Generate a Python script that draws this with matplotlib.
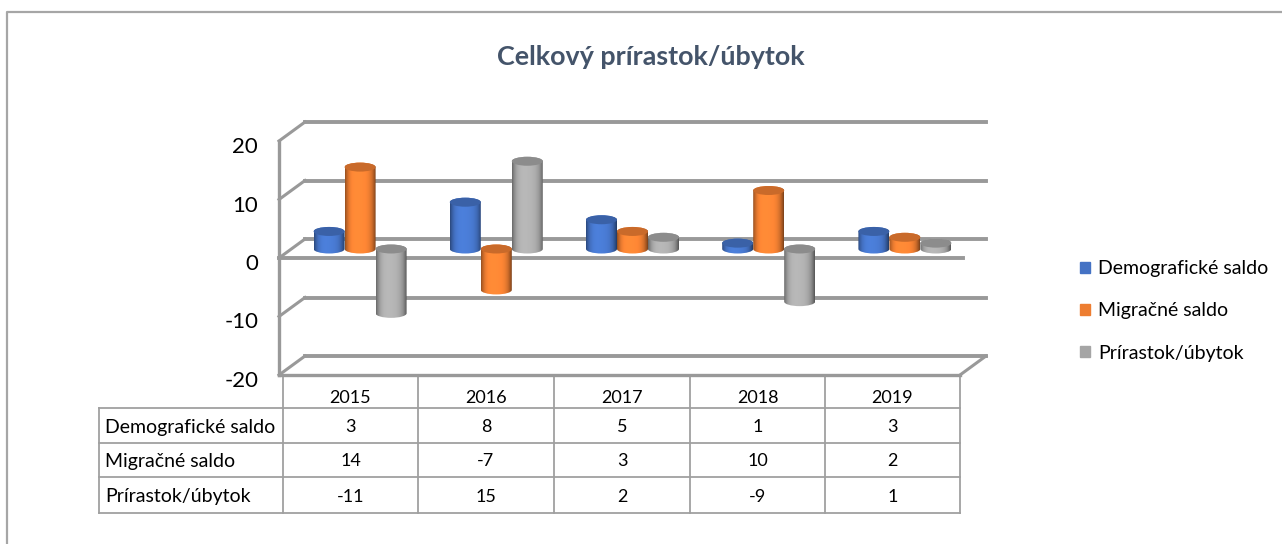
import numpy as np
import matplotlib
matplotlib.use('Agg')
import matplotlib.pyplot as plt
from matplotlib.patches import Ellipse, PathPatch, Patch
from matplotlib.path import Path
from matplotlib.transforms import ScaledTranslation

plt.rcParams['font.family'] = ['Lato', 'DejaVu Sans']

# data
years = ['2015', '2016', '2017', '2018', '2019']
demo = [3, 8, 5, 1, 3]
migr = [14, -7, 3, 10, 2]
prir = [-11, 15, 2, -9, 1]
names = ['Demografické saldo', 'Migračné saldo', 'Prírastok/úbytok']
rows = [demo, migr, prir]
colors = ['#4472C4', '#ED7D31', '#A5A5A5']
ticks = [-20, -10, 0, 10, 20]
grid_c = '#999999'

W, H = 1282, 544
fig = plt.figure(figsize=(W / 100, H / 100), dpi=100)

# overlay in pixel coordinates for the chart frame and the data table
bg = fig.add_axes([0, 0, 1, 1])
bg.set_xlim(0, W)
bg.set_ylim(H, 0)
bg.axis('off')
bg.plot([W, 7, 7], [12, 12, H], color='#A6A6A6', lw=1.6, clip_on=False)
bg.text(651, 57, 'Celkový prírastok/úbytok', color='#44546A', fontsize=19.4,
        fontweight='bold', ha='center', va='center')

# main plot area
x0, x1, y0, y1 = 279, 960, 141, 375
ax = fig.add_axes([x0 / W, 1 - y1 / H, (x1 - x0) / W, (y1 - y0) / H], zorder=2)
ax.patch.set_alpha(0)
n = len(years)
ax.set_xlim(0, n)
ax.set_ylim(-20, 20)
for s in ax.spines.values():
    s.set_visible(False)
ax.set_xticks([])
ax.set_yticks(ticks)
ax.set_yticklabels([str(t) for t in ticks], fontsize=16)
ax.tick_params(axis='y', length=0, pad=15)
shift = ScaledTranslation(0, -4 / 72 * 0.72, fig.dpi_scale_trans)
for t in ax.get_yticklabels():
    t.set_transform(t.get_transform() + shift)
px_x = n / (x1 - x0)
px_y = 40 / (y1 - y0)

# 3d box
dx, dy = 26 * px_x, 19 * px_y
for t in ticks:
    ax.plot([dx, n + dx], [t + dy, t + dy], color=grid_c, lw=2.8, clip_on=False, zorder=1)
    ax.plot([0, dx], [t, t + dy], color=grid_c, lw=2.2, clip_on=False, zorder=1)
ax.plot([0, 0], [-20, 20], color=grid_c, lw=2.4, clip_on=False, zorder=1)
ax.plot([0, n], [-20, -20], color=grid_c, lw=2.4, clip_on=False, zorder=1)
ax.plot([n, n + dx], [-20, -20 + dy], color=grid_c, lw=2.2, clip_on=False, zorder=1)
ax.plot([0, n + 3 * px_x], [0, 0], color=grid_c, lw=2.8, clip_on=False, zorder=1)


def shade(hex_c, f):
    rgb = np.array(matplotlib.colors.to_rgb(hex_c))
    return tuple(np.clip(rgb * f, 0, 1))


def cylinder(cx, val, w, c, z):
    base = 9 * px_y
    eh = 9 * px_y
    lo, hi = sorted([base, base + val])
    k = 0.5522847
    hw = w / 2
    verts = [(cx - hw, hi), (cx - hw, lo)]
    codes = [Path.MOVETO, Path.LINETO]
    verts += [(cx - hw, lo - eh / 2 * k), (cx - hw * k, lo - eh / 2), (cx, lo - eh / 2),
              (cx + hw * k, lo - eh / 2), (cx + hw, lo - eh / 2 * k), (cx + hw, lo)]
    codes += [Path.CURVE4] * 6
    verts += [(cx + hw, hi), (cx + hw, hi + eh / 2 * k), (cx + hw * k, hi + eh / 2), (cx, hi + eh / 2),
              (cx - hw * k, hi + eh / 2), (cx - hw, hi + eh / 2 * k), (cx - hw, hi)]
    codes += [Path.LINETO] + [Path.CURVE4] * 6
    outline = PathPatch(Path(verts, codes), transform=ax.transData, fc='none', ec='none')
    ax.add_patch(outline)
    pos = np.linspace(-1, 1, 40)
    fac = 1.12 - 0.42 * pos ** 4 - 0.1 * (pos + 0.3) ** 2
    grad = np.array([[shade(c, f) for f in fac]])
    im = ax.imshow(grad, extent=[cx - hw, cx + hw, lo - eh, hi + eh], aspect='auto',
                   zorder=z, interpolation='bilinear')
    im.set_clip_path(outline)
    ax.add_patch(Ellipse((cx, hi), w, eh, fc=shade(c, 0.85), ec='none', zorder=z + 0.1, clip_on=False))


w = 31 * px_x
z = 3
for i in range(n):
    for j in range(len(rows)):
        cx = i + 0.5 + 13 * px_x + (j - 1) * w
        cylinder(cx, rows[j][i], w, colors[j], z)
        z += 1
ax.set_xlim(0, n)
ax.set_ylim(-20, 20)

# data table under the plot
tx = [99, 283, 418, 554, 690, 825, 960]
ty = [408, 443, 477, 513]
tc = '#A0A0A0'
for y in ty:
    bg.plot([tx[0], tx[-1]], [y, y], color=tc, lw=1.3)
bg.plot([tx[0], tx[0]], [ty[0], ty[-1]], color=tc, lw=1.3)
for x in tx[1:]:
    bg.plot([x, x], [375, ty[-1]], color=tc, lw=1.3)
fs = 14
fn = 13
for i, y in enumerate(years):
    bg.text((tx[i + 1] + tx[i + 2]) / 2, 398, y, fontsize=fn, ha='center', va='center')
for r in range(3):
    yc = (ty[r] + ty[r + 1]) / 2 + 1.5
    bg.text(105, yc, names[r], fontsize=fs, ha='left', va='center')
    for i in range(n):
        bg.text((tx[i + 1] + tx[i + 2]) / 2, yc, str(rows[r][i]), fontsize=fn, ha='center', va='center')

# legend
handles = [Patch(color=c, label=l) for c, l in zip(colors, names)]
fig.legend(handles=handles, loc='center left', bbox_to_anchor=(1080 / W, 1 - 311 / H), frameon=False,
           fontsize=fs, handlelength=0.5, handleheight=0.5, handletextpad=0.45, labelspacing=1.3,
           borderpad=0, borderaxespad=0)

fig.savefig('out.png', dpi=100)
